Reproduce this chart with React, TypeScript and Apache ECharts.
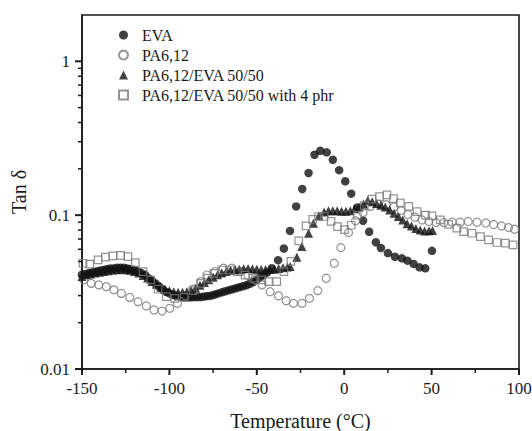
import React, { useEffect, useRef } from "react";
import * as echarts from "echarts";

// ---- Data ----
const evaTemp = [
  -150, -148, -146, -144, -142, -140, -138, -136, -134, -132, -130, -128, -126, -124, -122, -120,
  -118, -116, -114, -112, -110, -108, -106, -104, -102, -100, -98, -96, -94, -92, -90, -88, -86,
  -84, -82, -80, -78, -76, -74, -72, -70, -68, -66, -64, -62, -60, -58, -56, -54, -52, -50, -48,
  -46, -44, -41.4, -37.8, -34.5, -31, -27.5, -24, -20.4, -17, -13.7, -10, -6.5, -2.9, 0.6, 4, 7.4,
  10.8, 14.3, 18.1, 21, 25, 29, 33, 36.2, 39.7, 43.1, 46.4, 50.2,
];
const evaTan = [
  0.041, 0.0415, 0.042, 0.0425, 0.043, 0.0435, 0.044, 0.0445, 0.045, 0.045, 0.0455, 0.0455, 0.0455,
  0.045, 0.0445, 0.044, 0.043, 0.042, 0.041, 0.039, 0.0375, 0.036, 0.0345, 0.033, 0.0318, 0.031,
  0.0303, 0.0298, 0.0295, 0.0293, 0.0292, 0.0292, 0.0293, 0.0293, 0.0294, 0.0296, 0.0298, 0.03,
  0.0305, 0.031, 0.0315, 0.032, 0.0325, 0.033, 0.0335, 0.034, 0.0345, 0.035, 0.0358, 0.0368, 0.038,
  0.0395, 0.041, 0.0425, 0.0452, 0.051, 0.0607, 0.079, 0.114, 0.148, 0.188, 0.247, 0.262, 0.256,
  0.229, 0.196, 0.166, 0.138, 0.112, 0.092, 0.078, 0.0667, 0.0612, 0.0567, 0.0537, 0.0524, 0.0506,
  0.0482, 0.0458, 0.0451, 0.0586,
];

const paTemp = [
  -149, -144.7, -140.4, -136.1, -131.7, -127.5, -122.7, -117.9, -113.2, -108.8, -104.2, -99.8,
  -95.4, -90.9, -86.5, -82, -78.6, -73.9, -69.1, -64.3, -59.5, -55, -51, -47, -42.4, -37.6, -33.2,
  -29, -24.2, -19.9, -15.1, -10.3, -5.7, -1.9, 2.5, 6.5, 10.8, 15, 19.5, 24, 28.5, 32.5, 36.5, 40.5,
  44.5, 48.5, 52.5, 57, 61.7, 66.4, 71, 76, 81, 85.5, 90, 94, 97.5,
];
const paTan = [
  0.038, 0.036, 0.0352, 0.0343, 0.0327, 0.031, 0.0292, 0.0274, 0.0257, 0.0242, 0.0238, 0.0248,
  0.0267, 0.0299, 0.033, 0.037, 0.0408, 0.043, 0.0452, 0.0452, 0.043, 0.0405, 0.038, 0.0352, 0.0318,
  0.0299, 0.0278, 0.0267, 0.0267, 0.0288, 0.0323, 0.0389, 0.0487, 0.0615, 0.077, 0.092, 0.104, 0.114,
  0.118, 0.117, 0.113, 0.107, 0.101, 0.097, 0.093, 0.091, 0.0895, 0.0895, 0.09, 0.09, 0.091, 0.09,
  0.089, 0.087, 0.085, 0.083, 0.081,
];

const blendTemp = [
  -150, -147.5, -145, -142.5, -140, -137.5, -135, -132.5, -130, -127.5, -125, -122.5, -120, -117.5,
  -115, -112.5, -110, -107.5, -105, -102.5, -100, -97.5, -95, -92.5, -90, -87.5, -85, -82.5, -80,
  -77.5, -75, -72.5, -70, -67.5, -65, -62.5, -60, -57.5, -55, -52.5, -50, -47.5, -45, -42.5, -40,
  -37.5, -35, -32.5, -30.9, -27.1, -24.2, -20.4, -17.6, -14.5, -11.5, -9, -6.5, -4, -1.5, 1, 3.5, 6,
  8.5, 11, 13.5, 16, 18.5, 21, 23.5, 26, 28.5, 31, 33.5, 36, 38.5, 41, 43.5, 46, 48.5, 50.5,
];
const blendTan = [
  0.04, 0.041, 0.0415, 0.042, 0.0425, 0.043, 0.0435, 0.044, 0.0442, 0.0445, 0.0442, 0.0438, 0.043,
  0.042, 0.0405, 0.039, 0.037, 0.0355, 0.034, 0.033, 0.0322, 0.0318, 0.0315, 0.0315, 0.0318, 0.0322,
  0.0335, 0.035, 0.0365, 0.038, 0.0395, 0.041, 0.042, 0.043, 0.0438, 0.0442, 0.0445, 0.0448, 0.045,
  0.0448, 0.0445, 0.0443, 0.0443, 0.0443, 0.0445, 0.045, 0.0455, 0.046, 0.0463, 0.0533, 0.0625,
  0.0763, 0.0887, 0.099, 0.105, 0.107, 0.107, 0.107, 0.106, 0.106, 0.107, 0.11, 0.113, 0.118, 0.125,
  0.122, 0.119, 0.116, 0.113, 0.108, 0.103, 0.098, 0.093, 0.088, 0.085, 0.082, 0.08, 0.079, 0.0793,
  0.0795,
];

const phrTemp = [
  -149.4, -145.6, -140.8, -136.6, -132.3, -127.9, -123.7, -119.5, -115.1, -110.7, -106.5, -101.7,
  -96.9, -91.6, -86.5, -82.1, -78, -74.5, -70, -65.3, -61, -56.7, -52, -47.1, -43.3, -38.6, -34.5,
  -30.5, -26, -21.8, -18, -14.7, -11.5, -7.5, -3.8, 0.2, 4, 7.5, 11.5, 15.9, 20.2, 24.4, 28.2, 32.1,
  36.9, 41.7, 46.5, 50.2, 55, 59.7, 64.5, 68.3, 73.1, 77.9, 82.6, 87.4, 92.2, 96.6,
];
const phrTan = [
  0.0487, 0.048, 0.0512, 0.0533, 0.0544, 0.0547, 0.0538, 0.0491, 0.043, 0.038, 0.033, 0.0295,
  0.0288, 0.0292, 0.0323, 0.036, 0.039, 0.0419, 0.044, 0.044, 0.043, 0.0408, 0.0389, 0.038, 0.037,
  0.037, 0.043, 0.05, 0.068, 0.0852, 0.094, 0.098, 0.098, 0.091, 0.0843, 0.0805, 0.086, 0.1, 0.115,
  0.127, 0.132, 0.1355, 0.128, 0.12, 0.114, 0.1055, 0.1, 0.099, 0.0932, 0.087, 0.0823, 0.0782,
  0.0763, 0.0726, 0.069, 0.0664, 0.0657, 0.064,
];

const xMin = -150;
const xMax = 100;
const xStep = 50;
const xMajorTicks = [-150, -100, -50, 0, 50, 100];
const xMinorTicks = [-125, -75, -25, 25, 75];
const yMin = 0.01;
const yMax = 2;
const yMajorTicks = [0.01, 0.1, 1];
const yMajorLabels = ["0.01", "0.1", "1"];
const yMinorTicks = [
  0.02, 0.03, 0.04, 0.05, 0.06, 0.07, 0.08, 0.09, 0.2, 0.3, 0.4, 0.5, 0.6, 0.7, 0.8, 0.9,
];
const seriesNames = ["EVA", "PA6,12", "PA6,12/EVA 50/50", "PA6,12/EVA 50/50 with 4 phr"];

const pairs = (t: number[], v: number[]) => t.map((x, i) => [x, v[i]]);

export default function App() {
  const ref = useRef<HTMLDivElement>(null);

  useEffect(() => {
    if (!ref.current) return;
    const chart = echarts.init(ref.current, null, { renderer: "svg" });
    const font = "'Liberation Serif', 'Times New Roman', serif";
    const axisColor = "#1a1a1a";
    const openColor = "#787878";

    chart.setOption({
      animation: false,
      backgroundColor: "#ffffff",
      grid: {
        left: 82,
        right: 13,
        top: 15,
        bottom: 62,
        outerBoundsMode: "none",
        containLabel: false,
        show: true,
        borderColor: axisColor,
        borderWidth: 1.6,
        backgroundColor: "transparent",
      },
      legend: {
        orient: "vertical",
        left: 113,
        top: 22,
        itemWidth: 9,
        itemHeight: 9,
        itemGap: 4,
        data: seriesNames,
        textStyle: {
          fontFamily: font,
          fontSize: 16,
          color: "#1a1a1a",
          lineHeight: 16,
          padding: [0, 0, 0, 9],
        },
      },
      xAxis: {
        type: "value",
        min: xMin,
        max: xMax,
        interval: xStep,
        axisLine: { show: true, onZero: false, lineStyle: { color: axisColor, width: 1.6 } },
        axisTick: { show: false },
        minorTick: { show: false },
        splitLine: { show: false },
        minorSplitLine: { show: false },
        axisLabel: { color: "#1a1a1a", fontFamily: font, fontSize: 17, margin: 11 },
        name: "Temperature (°C)",
        nameLocation: "middle",
        nameGap: 42,
        nameTextStyle: { fontFamily: font, fontSize: 20, color: "#1a1a1a" },
      },
      yAxis: {
        type: "log",
        logBase: 10,
        min: yMin,
        max: yMax,
        position: "left",
        axisLine: { show: true, onZero: false, lineStyle: { color: axisColor, width: 1.6 } },
        axisTick: { show: false },
        axisLabel: {
          customValues: yMajorTicks,
          color: "#1a1a1a",
          fontFamily: font,
          fontSize: 17,
          margin: 12,
          formatter: (v: number) => {
            const i = yMajorTicks.findIndex((t) => Math.abs(t - v) / t < 1e-6);
            return i >= 0 ? yMajorLabels[i] : "";
          },
        },
        splitLine: { show: false },
        name: "Tan δ",
        nameLocation: "middle",
        nameGap: 51,
        nameTextStyle: { fontFamily: font, fontSize: 20, color: "#1a1a1a" },
      },
      series: [
        {
          name: seriesNames[0],
          type: "scatter",
          symbol: "circle",
          symbolSize: 8.5,
          itemStyle: { color: "#111" },
          data: pairs(evaTemp, evaTan),
        },
        {
          name: seriesNames[1],
          type: "scatter",
          symbol: "circle",
          symbolSize: 8,
          itemStyle: { color: "rgba(255,255,255,0)", borderColor: openColor, borderWidth: 1.2 },
          data: pairs(paTemp, paTan),
        },
        {
          name: seriesNames[2],
          type: "scatter",
          symbol: "triangle",
          symbolSize: 9,
          itemStyle: { color: "#111" },
          data: pairs(blendTemp, blendTan),
        },
        {
          name: seriesNames[3],
          type: "scatter",
          symbol: "rect",
          symbolSize: 7.5,
          itemStyle: { color: "rgba(255,255,255,0)", borderColor: openColor, borderWidth: 1.2 },
          data: pairs(phrTemp, phrTan),
        },
      ],
    });

    // Tick marks: positions come from the chart's own scales via convertToPixel.
    const toPx = (x: number, y: number) =>
      chart.convertToPixel({ gridIndex: 0 }, [x, y]) as number[];
    const ticks: any[] = [];
    const addY = (v: number, len: number, w: number) => {
      const p = toPx(xMin, v);
      if (!p || isNaN(p[0]) || isNaN(p[1])) return;
      ticks.push({
        type: "line",
        silent: true,
        z: 100,
        shape: { x1: p[0] - len, y1: p[1], x2: p[0], y2: p[1] },
        style: { stroke: axisColor, lineWidth: w },
      });
    };
    const addX = (v: number, len: number, w: number) => {
      const p = toPx(v, yMin);
      if (!p || isNaN(p[0]) || isNaN(p[1])) return;
      ticks.push({
        type: "line",
        silent: true,
        z: 100,
        shape: { x1: p[0], y1: p[1], x2: p[0], y2: p[1] + len },
        style: { stroke: axisColor, lineWidth: w },
      });
    };
    yMajorTicks.forEach((v) => addY(v, 7, 2));
    yMinorTicks.forEach((v) => addY(v, 4, 1.5));
    xMajorTicks.forEach((v) => addX(v, 6, 2));
    xMinorTicks.forEach((v) => addX(v, 4, 1.5));
    chart.setOption({ graphic: { elements: ticks } });

    return () => chart.dispose();
  }, []);

  return (
    <div
      ref={ref}
      style={{ position: "fixed", left: 0, top: 0, width: 532, height: 431, background: "#fff" }}
    />
  );
}
